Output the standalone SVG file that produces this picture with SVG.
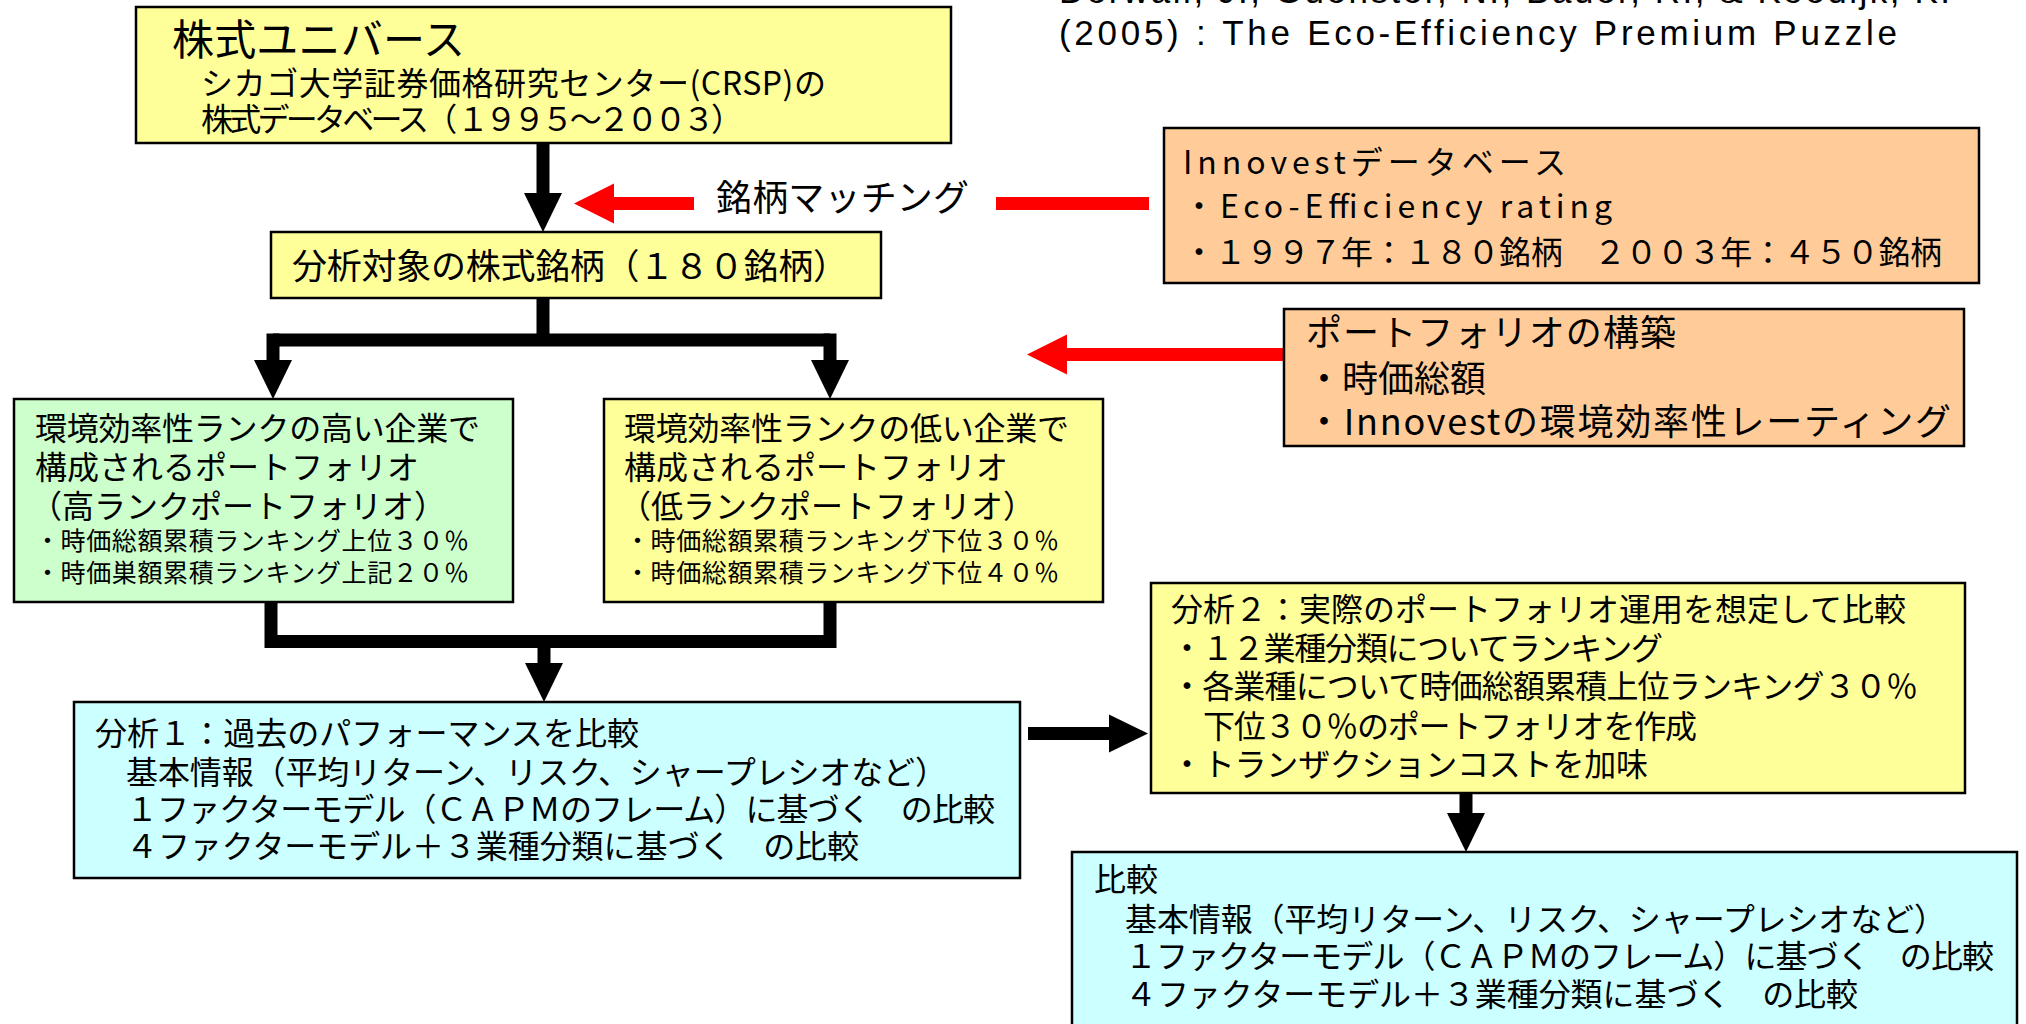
<svg xmlns="http://www.w3.org/2000/svg" width="2026" height="1024" viewBox="0 0 2026 1024">
<style>
.box{stroke:#000;stroke-width:2.5}
.yel{fill:#FFFF99}
.grn{fill:#CCFFCC}
.org{fill:#FFCC99}
.cyn{fill:#CCFFFF}
.t{font-family:"Noto Sans CJK JP","Noto Sans CJK SC",sans-serif;fill:#000}
.f32{font-size:32px}
.f25{font-size:25px}
.lat{font-family:"Liberation Sans",Arial,sans-serif;font-size:35px;fill:#000}
.blk{fill:none;stroke:#000;stroke-width:13}
.red{fill:none;stroke:#FF0000;stroke-width:13}
</style>
<defs>
<marker id="ahb" markerUnits="userSpaceOnUse" markerWidth="40" markerHeight="40" refX="0" refY="19" orient="auto" overflow="visible">
<path d="M0,0 L39,19 L0,38 z" fill="#000"/>
</marker>
<marker id="ahr" markerUnits="userSpaceOnUse" markerWidth="40" markerHeight="40" refX="0" refY="20" orient="auto" overflow="visible">
<path d="M0,0 L40,20 L0,40 z" fill="#FF0000"/>
</marker>
</defs>
<rect width="2026" height="1024" fill="#fff"/>

<g id="citation">
<text class="lat" x="1059" y="3" textLength="891" lengthAdjust="spacing">Derwall, J., Guenster, N., Bauer, R., &amp; Koedijk, K.</text>
<text class="lat" x="1059" y="45" textLength="838" lengthAdjust="spacing">(2005) : The Eco-Efficiency Premium Puzzle</text>
</g>

<g id="connectors">
<path class="blk" d="M543,143 V193" marker-end="url(#ahb)"/>
<path class="blk" d="M543,298 V340 M273,340 H830"/>
<path class="blk" d="M273,333.5 V360" marker-end="url(#ahb)"/>
<path class="blk" d="M830,333.5 V360" marker-end="url(#ahb)"/>
<path class="blk" d="M271,602 V641.5 H830 V602"/>
<path class="blk" d="M544,641 V663" marker-end="url(#ahb)"/>
<path class="blk" d="M1028,733.5 H1109" marker-end="url(#ahb)"/>
<path class="blk" d="M1466,793 V813" marker-end="url(#ahb)"/>
<path class="red" d="M694,203.5 H614" marker-end="url(#ahr)"/>
<path class="red" d="M996,203.5 H1149"/>
<path class="red" d="M1284,354.5 H1067" marker-end="url(#ahr)"/>
</g>

<g id="matching-label">
<text class="t" x="716" y="211" font-size="36" textLength="253" lengthAdjust="spacing">銘柄マッチング</text>
</g>

<g id="universe">
<rect class="box yel" x="136" y="7" width="815" height="136"/>
<text class="t" x="172" y="55" font-size="42" textLength="293" lengthAdjust="spacing">株式ユニバース</text>
<text class="t f32" x="201" y="95" textLength="625" lengthAdjust="spacing">シカゴ大学証券価格研究センター(CRSP)の</text>
<text class="t f32" x="201" y="131" textLength="542" lengthAdjust="spacing">株式データベース（ １９９５～２００３）</text>
</g>

<g id="target">
<rect class="box yel" x="271" y="232" width="610" height="66"/>
<text class="t" x="292" y="279" font-size="35" textLength="556" lengthAdjust="spacing">分析対象の株式銘柄（１８０銘柄）</text>
</g>

<g id="innovest">
<rect class="box org" x="1164" y="128" width="815" height="155"/>
<text class="t f32" x="1183" y="174" textLength="383" lengthAdjust="spacing">Innovestデータベース</text>
<text class="t f32" x="1183" y="218" textLength="429" lengthAdjust="spacing">・Eco-Efficiency rating</text>
<text class="t f32" x="1183" y="264" textLength="759" lengthAdjust="spacing">・１９９７年：１８０銘柄　２００３年：４５０銘柄</text>
</g>

<g id="portfolio-construction">
<rect class="box org" x="1284" y="309" width="680" height="137"/>
<text class="t" x="1306" y="346" font-size="36" textLength="370" lengthAdjust="spacing">ポートフォリオの構築</text>
<text class="t" x="1306" y="392" font-size="36">・時価総額</text>
<text class="t" x="1306" y="435" font-size="36" textLength="645" lengthAdjust="spacing">・Innovestの環境効率性レーティング</text>
</g>

<g id="high-rank">
<rect class="box grn" x="14" y="399" width="499" height="203"/>
<text class="t f32" x="35" y="440" textLength="445" lengthAdjust="spacing">環境効率性ランクの高い企業で</text>
<text class="t f32" x="35" y="479">構成されるポートフォリオ</text>
<text class="t f32" x="30" y="518">（高ランクポートフォリオ）</text>
<text class="t f25" x="35" y="550" textLength="434" lengthAdjust="spacing">・時価総額累積ランキング上位３０％</text>
<text class="t f25" x="35" y="582" textLength="434" lengthAdjust="spacing">・時価巣額累積ランキング上記２０％</text>
</g>

<g id="low-rank">
<rect class="box yel" x="604" y="399" width="499" height="203"/>
<text class="t f32" x="624" y="440" textLength="445" lengthAdjust="spacing">環境効率性ランクの低い企業で</text>
<text class="t f32" x="624" y="479">構成されるポートフォリオ</text>
<text class="t f32" x="619" y="518">（低ランクポートフォリオ）</text>
<text class="t f25" x="625" y="550" textLength="434" lengthAdjust="spacing">・時価総額累積ランキング下位３０％</text>
<text class="t f25" x="625" y="582" textLength="434" lengthAdjust="spacing">・時価総額累積ランキング下位４０％</text>
</g>

<g id="analysis1">
<rect class="box cyn" x="74" y="702" width="946" height="176"/>
<text class="t f32" x="95" y="745" textLength="544" lengthAdjust="spacing">分析１：過去のパフォーマンスを比較</text>
<text class="t f32" x="126" y="784" textLength="821" lengthAdjust="spacing">基本情報（平均リターン、リスク、シャープレシオなど）</text>
<text class="t f32" x="126" y="821" textLength="869" lengthAdjust="spacing">１ファクターモデル（ＣＡＰＭのフレーム）に基づく　の比較</text>
<text class="t f32" x="126" y="858" textLength="733" lengthAdjust="spacing">４ファクターモデル＋３業種分類に基づく　の比較</text>
</g>

<g id="analysis2">
<rect class="box yel" x="1151" y="583" width="814" height="210"/>
<text class="t f32" x="1171" y="621" textLength="735" lengthAdjust="spacing">分析２：実際のポートフォリオ運用を想定して比較</text>
<text class="t f32" x="1171" y="660" textLength="492" lengthAdjust="spacing">・１２業種分類についてランキング</text>
<text class="t f32" x="1171" y="698" textLength="747" lengthAdjust="spacing">・各業種について時価総額累積上位ランキング３０％</text>
<text class="t f32" x="1203" y="738" textLength="494" lengthAdjust="spacing">下位３０％のポートフォリオを作成</text>
<text class="t f32" x="1171" y="776" textLength="477" lengthAdjust="spacing">・トランザクションコストを加味</text>
</g>

<g id="comparison">
<rect class="box cyn" x="1072" y="852" width="945" height="180"/>
<text class="t f32" x="1094" y="891">比較</text>
<text class="t f32" x="1125" y="931" textLength="821" lengthAdjust="spacing">基本情報（平均リターン、リスク、シャープレシオなど）</text>
<text class="t f32" x="1125" y="968" textLength="869" lengthAdjust="spacing">１ファクターモデル（ＣＡＰＭのフレーム）に基づく　の比較</text>
<text class="t f32" x="1125" y="1006" textLength="733" lengthAdjust="spacing">４ファクターモデル＋３業種分類に基づく　の比較</text>
</g>
</svg>
